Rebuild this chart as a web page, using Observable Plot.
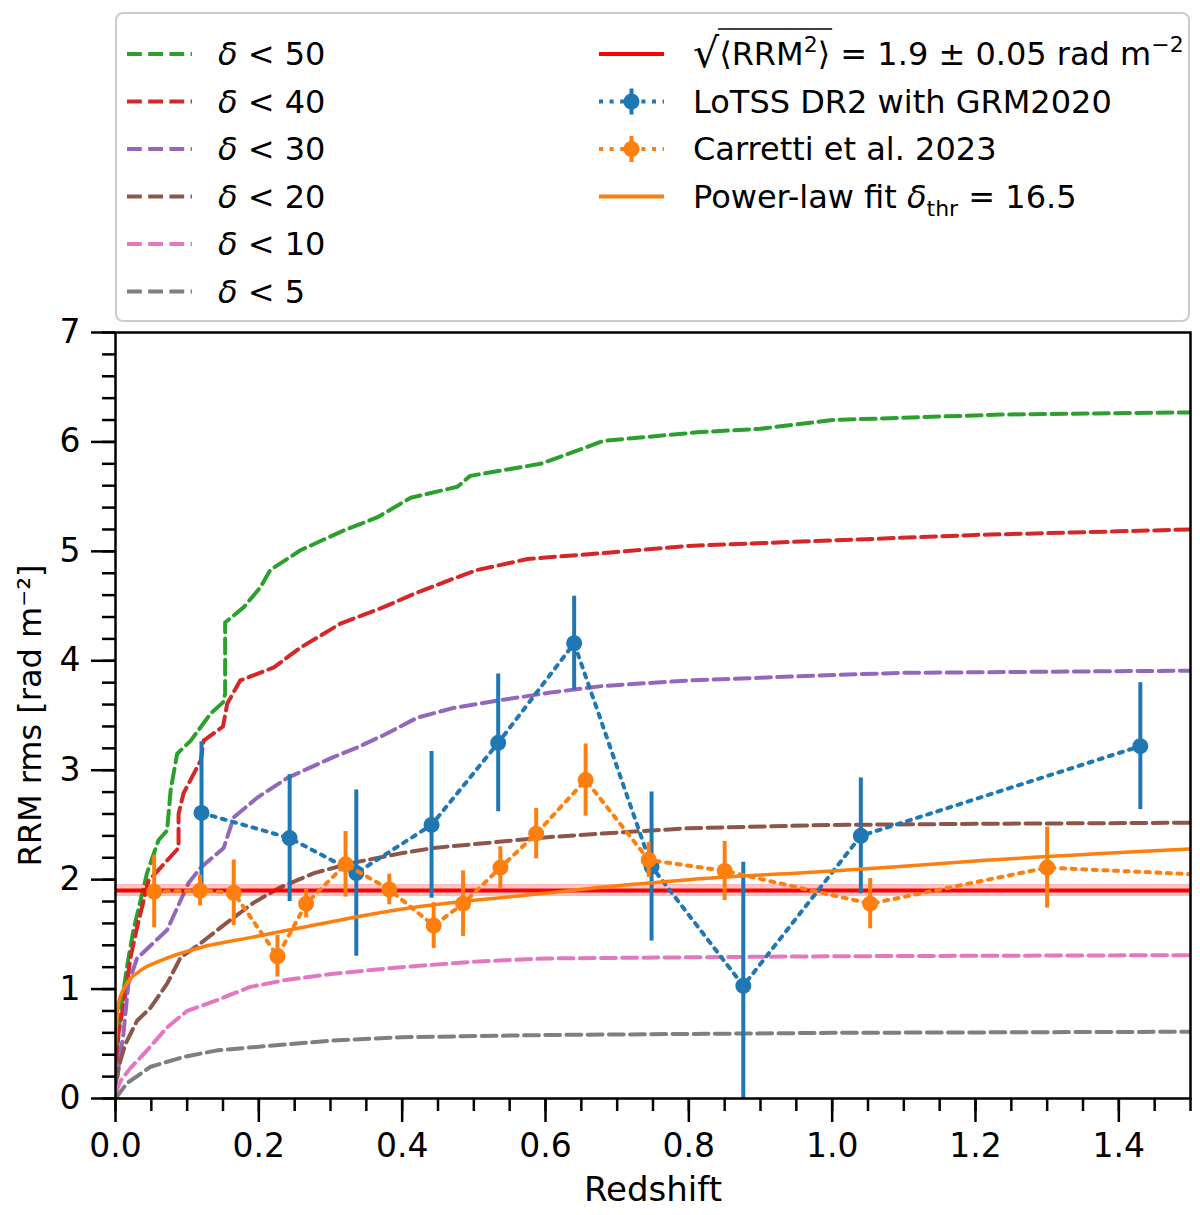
<!DOCTYPE html>
<html>
<head>
<meta charset="utf-8">
<script src="https://cdn.jsdelivr.net/npm/d3@7"></script>
<script src="https://cdn.jsdelivr.net/npm/@observablehq/plot@0.6"></script>
<style>
  body { margin: 0; background: white; font-family: "DejaVu Sans", sans-serif; }
  #legend svg, #chart svg { display: block; }
  #legend text { white-space: pre; }
</style>
</head>
<body>
<div id="legend"></div>
<div id="chart"></div>
<script>
// cumulative RRM rms curves for different overdensity thresholds, [redshift, rms]
const d50 = [[0,0.05],[0.003,0.5],[0.007,0.8],[0.016,1.2],[0.025,1.54],[0.035,1.81],[0.044,2.06],[0.060,2.36],[0.072,2.45],[0.077,2.82],[0.086,3.15],[0.105,3.27],[0.133,3.52],[0.150,3.62],[0.153,3.70],[0.153,4.35],[0.179,4.49],[0.202,4.67],[0.216,4.83],[0.258,5.01],[0.318,5.19],[0.365,5.31],[0.412,5.49],[0.477,5.59],[0.495,5.69],[0.593,5.80],[0.644,5.92],[0.681,6.01],[0.816,6.09],[0.9,6.12],[1.0,6.20],[1.235,6.25],[1.5,6.27]];
const d40 = [[0,0.14],[0.004,0.59],[0.014,0.96],[0.021,1.29],[0.030,1.56],[0.046,1.99],[0.063,2.11],[0.088,2.29],[0.088,2.60],[0.095,2.79],[0.119,3.09],[0.123,3.27],[0.150,3.40],[0.156,3.61],[0.174,3.82],[0.221,3.94],[0.258,4.12],[0.314,4.34],[0.374,4.49],[0.416,4.61],[0.467,4.74],[0.505,4.83],[0.575,4.93],[0.691,4.99],[0.8,5.05],[1.0,5.10],[1.2,5.15],[1.5,5.20]];
const d30 = [[0,0],[0.004,0.28],[0.011,0.59],[0.018,1.05],[0.030,1.28],[0.072,1.54],[0.102,1.97],[0.119,2.11],[0.151,2.29],[0.165,2.57],[0.198,2.75],[0.240,2.93],[0.304,3.12],[0.338,3.21],[0.374,3.32],[0.421,3.48],[0.472,3.57],[0.537,3.64],[0.607,3.71],[0.68,3.77],[0.8,3.82],[1.0,3.87],[1.1,3.89],[1.5,3.91]];
const d20 = [[0,0.14],[0.007,0.35],[0.014,0.50],[0.030,0.71],[0.049,0.83],[0.072,1.05],[0.091,1.29],[0.119,1.42],[0.156,1.61],[0.193,1.79],[0.230,1.93],[0.277,2.06],[0.328,2.15],[0.398,2.24],[0.444,2.29],[0.607,2.39],[0.7,2.43],[0.8,2.47],[1.0,2.50],[1.2,2.51],[1.5,2.52]];
const d10 = [[0,0.05],[0.007,0.16],[0.021,0.28],[0.044,0.44],[0.072,0.65],[0.100,0.80],[0.142,0.90],[0.188,1.02],[0.235,1.08],[0.304,1.14],[0.398,1.20],[0.5,1.25],[0.6,1.28],[0.8,1.29],[1.0,1.30],[1.5,1.31]];
const d5 = [[0,0],[0.016,0.14],[0.049,0.29],[0.095,0.38],[0.142,0.44],[0.212,0.48],[0.304,0.53],[0.398,0.56],[0.6,0.58],[1.0,0.60],[1.5,0.61]];

const deltaSeries = [d50, d40, d30, d20, d10, d5];
const deltaLabels = ["50", "40", "30", "20", "10", "5"];
const deltaColors = ["#2ca02c", "#d62728", "#9467bd", "#8c564b", "#e377c2", "#7f7f7f"];

// LoTSS DR2 with GRM2020
const lotssZ = [0.120, 0.243, 0.336, 0.441, 0.534, 0.640, 0.748, 0.876, 1.040, 1.430];
const lotssRms = [2.61, 2.38, 2.06, 2.50, 3.25, 4.16, 2.12, 1.03, 2.40, 3.22];
const lotssErr = [0.65, 0.58, 0.76, 0.67, 0.63, 0.43, 0.68, 1.13, 0.53, 0.58];

// Carretti et al. 2023
const carZ = [0.054, 0.118, 0.165, 0.226, 0.266, 0.321, 0.382, 0.444, 0.485, 0.537, 0.587, 0.656, 0.744, 0.850, 1.053, 1.300];
const carRms = [1.89, 1.90, 1.88, 1.30, 1.78, 2.14, 1.91, 1.58, 1.78, 2.11, 2.42, 2.91, 2.18, 2.08, 1.78, 2.11];
const carErr = [0.33, 0.14, 0.30, 0.19, 0.13, 0.30, 0.14, 0.21, 0.30, 0.19, 0.23, 0.33, 0.16, 0.27, 0.23, 0.37];
const carEdge = [1.5, 2.05]; // dotted line leaves the axes here

// power-law fit
const fitZ = [0.0002, 0.002, 0.0046, 0.016, 0.035, 0.063, 0.119, 0.188, 0.258, 0.328, 0.398, 0.607, 0.677, 0.8, 1.0, 1.095, 1.2, 1.5];
const fitRms = [0.50, 0.74, 0.88, 1.05, 1.17, 1.26, 1.38, 1.47, 1.56, 1.65, 1.73, 1.88, 1.93, 2.00, 2.08, 2.12, 2.17, 2.28];

const rrmMean = 1.9, rrmErr = 0.05;

const xMajor = [0, 0.2, 0.4, 0.6, 0.8, 1.0, 1.2, 1.4];
const yMajor = [0, 1, 2, 3, 4, 5, 6, 7];

const blue = "#1f77b4", orange = "#ff7f0e";
const lotss = lotssZ.map((z, i) => ({z, rms: lotssRms[i], err: lotssErr[i]}));
const car = carZ.map((z, i) => ({z, rms: carRms[i], err: carErr[i]}));
const carLine = car.map(d => [d.z, d.rms]).concat([carEdge]);
const fit = fitZ.map((z, i) => [z, fitRms[i]]);

const dash = "14.8,6.4", dot = "4,6.6";

// ---- legend ----
const lg = d3.select("#legend").append("svg").attr("width", 1200).attr("height", 322);
lg.append("rect").attr("x", 116).attr("y", 13).attr("width", 1073).attr("height", 308).attr("rx", 7)
  .attr("fill", "white").attr("stroke", "#cccccc").attr("stroke-width", 2);

const rowY = i => 54 + i * 47.5;
const fs = 32;

deltaLabels.forEach((lab, i) => {
  const y = rowY(i);
  lg.append("line").attr("x1", 127).attr("x2", 192).attr("y1", y).attr("y2", y)
    .attr("stroke", deltaColors[i]).attr("stroke-width", 4).attr("stroke-dasharray", dash);
  const t = lg.append("text").attr("x", 218).attr("y", y + 11).attr("font-size", fs);
  t.append("tspan").attr("font-style", "italic").text("δ");
  t.append("tspan").text(" < " + lab);
});

// helper: write pieces one after another, returns the x positions
function pieces(x, y, parts) {
  const xs = [];
  parts.forEach(p => {
    xs.push(x);
    const t = lg.append("text").attr("x", x).attr("y", y + (p.dy || 0))
      .attr("font-size", p.size || fs).text(p.t);
    if (p.italic) t.attr("font-style", "italic");
    x += t.node().getComputedTextLength();
  });
  xs.push(x);
  return xs;
}

// row 0: red line
lg.append("line").attr("x1", 599).attr("x2", 664).attr("y1", rowY(0)).attr("y2", rowY(0))
  .attr("stroke", "red").attr("stroke-width", 4);
const xs = pieces(693, rowY(0) + 11, [
  {t: "√", size: 41, dy: 2},
  {t: "⟨RRM"},
  {t: "2", size: 22, dy: -13},
  {t: "⟩"},
  {t: " = 1.9 ± 0.05 rad m"},
  {t: "−2", size: 22, dy: -13}
]);
lg.append("line").attr("x1", xs[1] - 1).attr("x2", xs[4] + 2).attr("y1", rowY(0) - 25).attr("y2", rowY(0) - 25)
  .attr("stroke", "black").attr("stroke-width", 1.5);

// rows 1-2: error bar samples
[[blue, "LoTSS DR2 with GRM2020"], [orange, "Carretti et al. 2023"]].forEach(([c, lab], k) => {
  const y = rowY(k + 1);
  lg.append("line").attr("x1", 599).attr("x2", 664).attr("y1", y).attr("y2", y)
    .attr("stroke", c).attr("stroke-width", 4).attr("stroke-dasharray", dot);
  lg.append("line").attr("x1", 631.5).attr("x2", 631.5).attr("y1", y - 13).attr("y2", y + 13)
    .attr("stroke", c).attr("stroke-width", 4);
  lg.append("circle").attr("cx", 631.5).attr("cy", y).attr("r", 8).attr("fill", c);
  lg.append("text").attr("x", 693).attr("y", y + 11).attr("font-size", fs).text(lab);
});

// row 3: fit
lg.append("line").attr("x1", 599).attr("x2", 664).attr("y1", rowY(3)).attr("y2", rowY(3))
  .attr("stroke", orange).attr("stroke-width", 4);
pieces(693, rowY(3) + 11, [
  {t: "Power-law fit "},
  {t: "δ", italic: true},
  {t: "thr", size: 22, dy: 8},
  {t: " = 16.5"}
]);

// ---- chart ----
const tickStyle = {strokeWidth: 2.5, label: null, tickFormat: () => ""};
const chart = Plot.plot({
  width: 1200,
  height: 893,
  marginTop: 10,
  marginLeft: 115,
  marginRight: 10,
  marginBottom: 117,
  style: {fontFamily: "DejaVu Sans", background: "white", overflow: "visible"},
  x: {domain: [0, 1.5]},
  y: {domain: [0, 7]},
  marks: [
    ...deltaSeries.map((s, i) => Plot.line(s, {x: "0", y: "1", stroke: deltaColors[i], strokeWidth: 4, strokeDasharray: dash, clip: true})),
    Plot.areaY([0, 1.5], {x: d => d, y1: () => rrmMean - rrmErr, y2: () => rrmMean + rrmErr, fill: "red", fillOpacity: 0.22, stroke: "red", strokeOpacity: 0.2}),
    Plot.ruleY([rrmMean], {stroke: "red", strokeWidth: 4}),
    Plot.line(lotss, {x: "z", y: "rms", stroke: blue, strokeWidth: 4, strokeDasharray: dot, clip: true}),
    Plot.ruleX(lotss, {x: "z", y1: d => d.rms - d.err, y2: d => d.rms + d.err, stroke: blue, strokeWidth: 4, clip: true}),
    Plot.dot(lotss, {x: "z", y: "rms", r: 8, fill: blue}),
    Plot.line(carLine, {x: "0", y: "1", stroke: orange, strokeWidth: 4, strokeDasharray: dot, clip: true}),
    Plot.ruleX(car, {x: "z", y1: d => d.rms - d.err, y2: d => d.rms + d.err, stroke: orange, strokeWidth: 4}),
    Plot.dot(car, {x: "z", y: "rms", r: 8, fill: orange}),
    Plot.line(fit, {x: "0", y: "1", stroke: orange, strokeWidth: 3.5, curve: "monotone-x", clip: true}),
    Plot.frame({stroke: "black", strokeWidth: 2.5}),
    Plot.axisX({...tickStyle, ticks: d3.range(0, 1.5001, 0.05), tickSize: 13}),
    Plot.axisX({...tickStyle, ticks: xMajor, tickSize: 24}),
    Plot.axisY({...tickStyle, ticks: d3.range(0, 7.001, 0.2), tickSize: 13}),
    Plot.axisY({...tickStyle, ticks: yMajor, tickSize: 24}),
    Plot.text(xMajor, {x: d => d, text: d3.format(".1f"), frameAnchor: "bottom", lineAnchor: "middle", textAnchor: "middle", dy: 48, fontSize: 33}),
    Plot.text(yMajor, {y: d => d, text: d => String(d), frameAnchor: "left", lineAnchor: "middle", textAnchor: "end", dx: -35, fontSize: 33}),
    Plot.text(["Redshift"], {text: d => d, frameAnchor: "bottom", lineAnchor: "middle", textAnchor: "middle", dy: 92, fontSize: 34}),
    Plot.text(["RRM rms [rad m⁻²]"], {text: d => d, frameAnchor: "left", lineAnchor: "middle", textAnchor: "middle", dx: -85, rotate: -90, fontSize: 32})
  ]
});

d3.select("#chart").append(() => chart);
</script>
</body>
</html>
